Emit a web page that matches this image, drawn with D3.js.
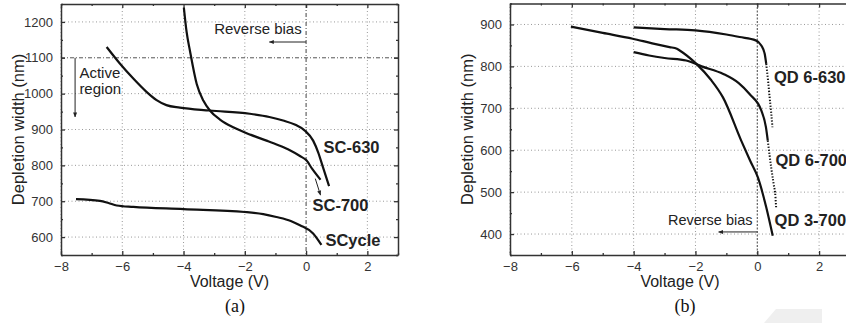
<!DOCTYPE html>
<html>
<head>
<meta charset="utf-8">
<script src="https://cdn.jsdelivr.net/npm/d3@7"></script>
<style>
  body { margin: 0; background: #fff; }
  svg { display: block; font-family: "Liberation Sans", Arial, sans-serif; }
</style>
</head>
<body>
<div id="chart"></div>
<script>
// tick values
const voltTicks = [-8, -6, -4, -2, 0, 2];
const voltMinor = [-7, -5, -3, -1, 1, 3];
const scDepthTicks = [600, 700, 800, 900, 1000, 1100, 1200];
const scDepthMinor = [550, 650, 750, 850, 950, 1050, 1150, 1250];
const qdDepthTicks = [400, 500, 600, 700, 800, 900];
const qdDepthMinor = [350, 450, 550, 650, 750, 850, 950];

// (a) single cycle / SC samples: [voltage, depletion width]
const sc630 = [[-6.51,1130],[-6.08,1084],[-5.64,1042],[-5.21,1005],[-4.88,982],[-4.56,968],[-4.12,961],
  [-3.14,953],[-1.84,944],[-1.2,935],[-0.75,925],[-0.35,913],[-0.04,897],[0.23,869],[0.4,835],[0.55,795],[0.75,742]];
const sc700 = [[-3.99,1240],[-3.9,1172],[-3.79,1119],[-3.57,1027],[-3.35,980],[-3.14,953],[-2.8,927],
  [-2.38,906],[-1.8,885],[-1.29,869],[-0.9,856],[-0.53,842],[-0.2,826],[0.01,814],[0.2,790],[0.47,760]];
const scCycle = [[-7.51,706],[-6.73,701],[-6.45,695],[-6.18,688],[-5.64,684],[-4,678],[-2,670],
  [-1.4,664],[-0.97,656],[-0.5,645],[-0.2,633],[0.23,610],[0.5,578]];

// (b) QD samples
const qd630 = [[-4,893],[-3,889],[-2,886],[-1,876],[-0.57,870],[-0.05,862],[0.13,850],[0.24,830],[0.29,806]];
const qd630Tail = [[0.29,806],[0.35,765],[0.4,726],[0.45,690],[0.49,655]];
const qd6700 = [[-4,834],[-3.5,826],[-3,820],[-2.3,814],[-1.8,800],[-1.1,782],[-0.6,760],[-0.25,734],
  [0.13,695],[0.28,655],[0.34,623]];
const qd6700Tail = [[0.34,623],[0.45,559],[0.53,519],[0.59,487],[0.6,475],[0.61,464]];
const qd3700 = [[-6.03,895],[-5,880],[-4.03,866],[-3.4,855],[-2.84,846],[-2.6,842],[-2.51,838],
  [-1.97,806],[-1.5,768],[-1.11,726],[-0.52,623],[-0.23,575],[0.02,535],[0.29,464],[0.5,396]];

const svg = d3.select("#chart").append("svg")
  .attr("width", 846)
  .attr("height", 323);

svg.append("defs").append("marker")
  .attr("id", "arrow")
  .attr("viewBox", "0 0 10 10")
  .attr("refX", 9).attr("refY", 5)
  .attr("markerWidth", 5).attr("markerHeight", 5)
  .attr("orient", "auto")
  .append("path")
  .attr("d", "M0,1 L10,5 L0,9 Z")
  .attr("fill", "#222");

function panel(opt) {
  const x = d3.scaleLinear().domain([-8, 3]).range([opt.left, opt.right]);
  const y = d3.scaleLinear().domain(opt.yDomain).range([opt.bottom, opt.top]);
  const g = svg.append("g");

  // grid
  g.selectAll(".gx").data(voltTicks.filter(d => d !== 0)).enter().append("line")
    .attr("x1", d => x(d)).attr("x2", d => x(d))
    .attr("y1", opt.top).attr("y2", opt.bottom)
    .attr("stroke", "#999").attr("stroke-dasharray", "1,2.5");
  g.selectAll(".gy").data(opt.yTicks.filter(d => d !== opt.dashY)).enter().append("line")
    .attr("x1", opt.left).attr("x2", opt.right)
    .attr("y1", d => y(d)).attr("y2", d => y(d))
    .attr("stroke", "#999").attr("stroke-dasharray", "1,2.5");

  // zero line (and the 1100 nm line in panel a)
  g.append("line")
    .attr("x1", x(0)).attr("x2", x(0)).attr("y1", opt.top).attr("y2", opt.bottom)
    .attr("stroke", "#444").attr("stroke-dasharray", opt.zeroDash);
  if (opt.dashY) {
    g.append("line")
      .attr("x1", opt.left).attr("x2", opt.right).attr("y1", y(opt.dashY)).attr("y2", y(opt.dashY))
      .attr("stroke", "#555").attr("stroke-dasharray", "4,2,1,2");
  }

  // axes, ticks pointing inward
  const axes = [
    [d3.axisBottom(x), opt.bottom, "x", voltTicks, voltMinor, true],
    [d3.axisTop(x), opt.top, "x", voltTicks, voltMinor, false],
    [d3.axisLeft(y), opt.left, "y", opt.yTicks, opt.yMinor, true],
    [d3.axisRight(y), opt.right, "y", opt.yTicks, opt.yMinor, false]
  ];
  axes.forEach(([ax, pos, dir, major, minor, labels]) => {
    const tr = dir === "x" ? `translate(0,${pos})` : `translate(${pos},0)`;
    const a = g.append("g").attr("transform", tr)
      .call(ax.tickValues(major).tickSizeInner(-4).tickSizeOuter(0).tickPadding(dir === "x" ? 7 : 8)
        .tickFormat(labels ? d3.format("d") : ""));
    a.select(".domain").attr("stroke", "#333").attr("stroke-width", 1.5);
    a.selectAll(".tick line").attr("stroke", "#333").attr("stroke-width", 1.3);
    a.selectAll("text").attr("font-size", 13).attr("fill", "#333")
      .attr("font-family", "Liberation Sans, Arial, sans-serif");
    const m = g.append("g").attr("transform", tr)
      .call(ax.tickValues(minor).tickSizeInner(-2).tickSizeOuter(0).tickFormat(""));
    m.select(".domain").remove();
    m.selectAll(".tick line").attr("stroke", "#333").attr("stroke-width", 1.3);
  });

  const line = d3.line().x(d => x(d[0])).y(d => y(d[1])).curve(d3.curveMonotoneX);
  opt.series.forEach(s => {
    g.append("path").datum(s.data)
      .attr("d", line)
      .attr("fill", "none")
      .attr("stroke", "#111")
      .attr("stroke-width", s.dotted ? 2 : 2.2)
      .attr("stroke-dasharray", s.dotted ? "1.3,1.7" : null);
  });

  opt.labels.forEach(l => {
    g.append("text").attr("x", x(l.v)).attr("y", y(l.d))
      .attr("font-size", l.size).attr("font-weight", l.bold ? "bold" : "normal")
      .attr("fill", "#222").text(l.text);
  });

  opt.arrows.forEach(a => {
    g.append("line")
      .attr("x1", x(a[0])).attr("y1", y(a[1])).attr("x2", x(a[2])).attr("y2", y(a[3]))
      .attr("stroke", "#222").attr("stroke-width", 1)
      .attr("marker-end", "url(#arrow)");
  });

  // axis titles
  g.append("text")
    .attr("x", (opt.left + opt.titleRight) / 2).attr("y", 287)
    .attr("text-anchor", "middle").attr("font-size", 16).attr("fill", "#222")
    .text("Voltage (V)");
  g.append("text")
    .attr("transform", `translate(${opt.left - 37},${(opt.top + opt.bottom) / 2}) rotate(-90)`)
    .attr("text-anchor", "middle").attr("font-size", 16.5).attr("fill", "#222")
    .text("Depletion width (nm)");
  g.append("text")
    .attr("x", opt.capX).attr("y", 312)
    .attr("text-anchor", "middle").attr("font-size", 18)
    .attr("font-family", "Liberation Serif, Times New Roman, serif").attr("fill", "#111")
    .text(opt.caption);
}

panel({
  left: 61, right: 398, top: 4, bottom: 255, titleRight: 398, capX: 235,
  yDomain: [550, 1250], yTicks: scDepthTicks, yMinor: scDepthMinor, dashY: 1100,
  zeroDash: "4,2,1,2",
  series: [{data: sc630}, {data: sc700}, {data: scCycle}],
  labels: [
    {v: 0.57, d: 835, text: "SC-630", size: 16.5, bold: true},
    {v: 0.21, d: 672, text: "SC-700", size: 16.5, bold: true},
    {v: 0.63, d: 575, text: "SCycle", size: 16.5, bold: true},
    {v: -3.0, d: 1166, text: "Reverse bias", size: 15},
    {v: -7.4, d: 1043, text: "Active", size: 15},
    {v: -7.4, d: 1000, text: "region", size: 15}
  ],
  arrows: [
    [0, 1144, -1.2, 1144],
    [-7.54, 1100, -7.54, 935],
    [0.3, 763, 0.47, 717]
  ],
  caption: "(a)"
});

panel({
  left: 510, right: 850, top: 3.5, bottom: 255, titleRight: 850, capX: 685,
  yDomain: [350, 950], yTicks: qdDepthTicks, yMinor: qdDepthMinor, dashY: null,
  zeroDash: "2,1.5",
  series: [
    {data: qd630}, {data: qd630Tail, dotted: true},
    {data: qd6700}, {data: qd6700Tail, dotted: true},
    {data: qd3700}
  ],
  labels: [
    {v: 0.54, d: 760, text: "QD 6-630", size: 16.5, bold: true},
    {v: 0.59, d: 563, text: "QD 6-700", size: 16.5, bold: true},
    {v: 0.56, d: 420, text: "QD 3-700", size: 16.5, bold: true},
    {v: -2.89, d: 422, text: "Reverse bias", size: 14.5}
  ],
  arrows: [
    [0, 405, -1.25, 405]
  ],
  caption: "(b)"
});

// faint scan artefact at the lower right
svg.append("polygon")
  .attr("points", "764,323 776,309 822,309 822,323")
  .attr("fill", "#efefef");
</script>
</body>
</html>
